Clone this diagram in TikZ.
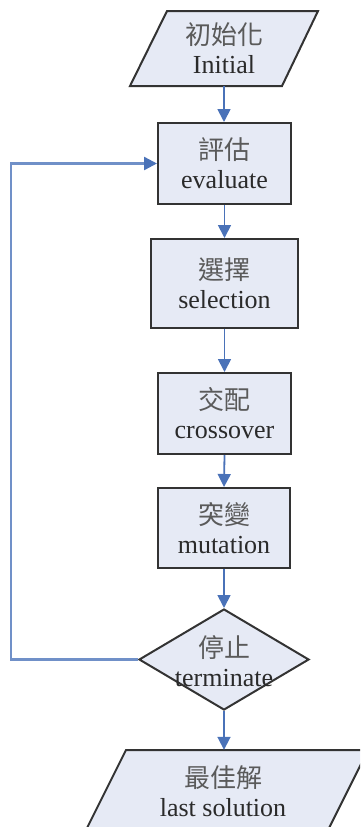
\documentclass[tikz,border=0pt]{standalone}
\usepackage{fontspec}
\setmainfont{Liberation Serif}
\newfontfamily\cjk{Noto Sans CJK TC}
\usetikzlibrary{arrows.meta,shapes.geometric}
\definecolor{boxfill}{HTML}{E6EAF5}
\definecolor{boxline}{HTML}{333333}
\definecolor{arrowblue}{HTML}{4A72B8}
\definecolor{loopblue}{HTML}{7090C8}
\definecolor{cjkgray}{HTML}{5A5A5A}
\definecolor{entext}{HTML}{2A2A2A}
\newcommand{\zh}[1]{{\color{cjkgray}\cjk #1}}
\begin{document}
\begin{tikzpicture}[x=1pt,y=-1pt,
  shapeline/.style={draw=boxline, line width=2pt, fill=boxfill},
  stepbox/.style={shapeline, inner sep=0pt, align=center, font=\fontsize{26}{29}\selectfont, text=entext},
  txt/.style={inner sep=0pt, align=center, font=\fontsize{26}{29}\selectfont, text=entext},
  flow/.style={draw=arrowblue, line width=1.8pt, -{Triangle[width=13pt,length=13pt,color=arrowblue]}},
  loopline/.style={draw=loopblue, line width=2.4pt, -{Triangle[width=13pt,length=13pt,color=arrowblue]}}
]
\useasboundingbox (0,0) rectangle (360,827);
\clip (0,0) rectangle (360,827);

% initial (parallelogram)
\path[shapeline] (167,11) -- (318,11) -- (282,86) -- (130,86) -- cycle;
\node[txt, minimum height=75pt] (init) at (224,48.5) {\zh{初始化}\\Initial};

% process boxes
\node[stepbox, minimum width=133pt, minimum height=81pt] (eval) at (224.5,163.5) {\zh{評估}\\evaluate};
\node[stepbox, minimum width=147pt, minimum height=89pt] (sel) at (224.5,283.5) {\zh{選擇}\\selection};
\node[stepbox, minimum width=133pt, minimum height=81pt] (cross) at (224.5,413.5) {\zh{交配}\\crossover};
\node[stepbox, minimum width=132pt, minimum height=80pt] (mut) at (224,528) {\zh{突變}\\mutation};

% decision
\node[shapeline, diamond, minimum width=170pt, minimum height=101pt, inner sep=0pt] (term) at (224,659.5) {};
\node[txt] (termlabel) at (224,661) {\zh{停止}\\terminate};

% last solution (parallelogram)
\path[shapeline] (126,750) -- (368,750) -- (329,828) -- (87,828) -- cycle;
\node[txt, minimum height=82pt] (last) at (223,791) {\zh{最佳解}\\last solution};

% connectors
\draw[flow] (init.south) -- (init.south |- eval.north);
\draw[flow] (eval.south) -- (sel.north);
\draw[flow] (sel.south) -- (cross.north);
\draw[flow] (cross.south) -- (mut.north);
\draw[flow] (mut.south) -- (term.north);
\draw[flow] (term.south) -- (term.south |- last.north);
\draw[loopline] (term.west) -- ++(-127,0) |- (eval.west);
\end{tikzpicture}
\end{document}
